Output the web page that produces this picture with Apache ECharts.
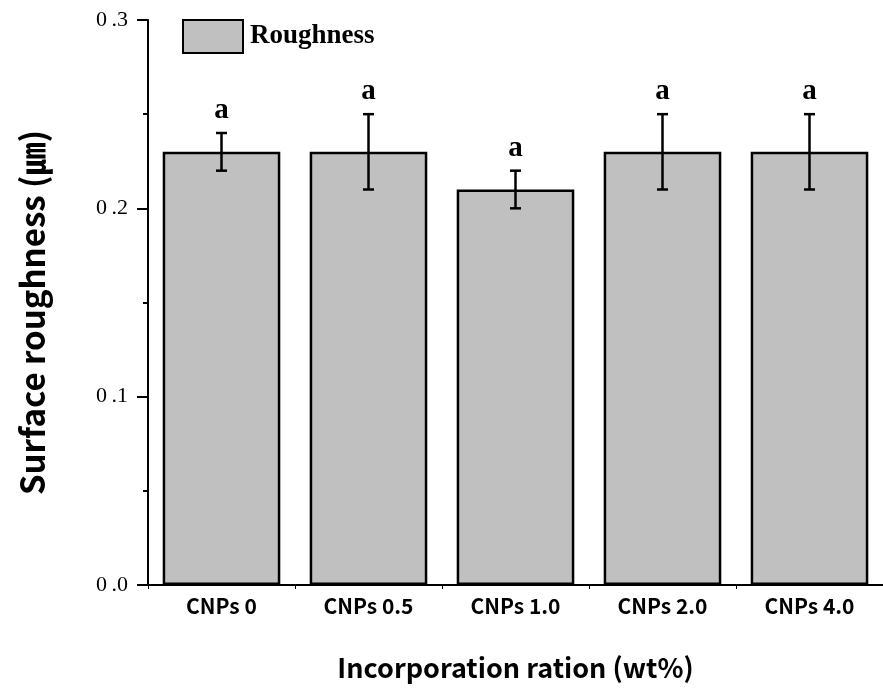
<!DOCTYPE html>
<html>
<head>
<meta charset="utf-8">
<script src="https://cdn.jsdelivr.net/npm/echarts@6/dist/echarts.min.js"></script>
<style>html,body{margin:0;padding:0;background:#fff;}#c{width:883px;height:689px;}</style>
</head>
<body>
<div id="c"></div>
<script>
const categories = ["CNPs 0", "CNPs 0.5", "CNPs 1.0", "CNPs 2.0", "CNPs 4.0"];
const roughness = [0.23, 0.23, 0.21, 0.23, 0.23];
const errors = [0.01, 0.02, 0.01, 0.02, 0.02];
const groupLetters = ["a", "a", "a", "a", "a"];
const yTicks = [0, 0.1, 0.2, 0.3];
const yTickLabels = ["0\u2009.0", "0\u2009.1", "0\u2009.2", "0\u2009.3"];

const chart = echarts.init(document.getElementById('c'));
const errData = categories.map((c, i) => [i, roughness[i], errors[i]]);

chart.setOption({
  animation: false,
  backgroundColor: '#fff',
  grid: { left: 148, right: 0, top: 20, bottom: 104 },
  legend: {
    data: ['Roughness'],
    left: 182, top: 19, padding: 0,
    itemWidth: 60, itemHeight: 33, itemGap: 6,
    icon: 'rect',
    itemStyle: { color: '#c0c0c0', borderColor: '#000', borderWidth: 2 },
    textStyle: { fontFamily: 'Liberation Serif', fontWeight: 'bold', fontSize: 27, color: '#000', padding: [0, 0, 0, 2] }
  },
  xAxis: {
    type: 'category',
    data: categories,
    name: 'Incorporation ration (wt%)',
    nameLocation: 'middle',
    nameGap: 69,
    nameTextStyle: { fontFamily: 'Noto Sans CJK KR', fontWeight: 'bold', fontSize: 27, color: '#000' },
    axisLine: { lineStyle: { color: '#000', width: 2 } },
    axisTick: { show: true, length: 4, lineStyle: { color: '#000', width: 1 } },
    axisLabel: { fontFamily: 'Noto Sans CJK KR', fontWeight: 'bold', fontSize: 21, color: '#000', margin: 11 }
  },
  yAxis: {
    type: 'value',
    min: 0, max: 0.3, interval: 0.1,
    name: 'Surface roughness (㎛)',
    nameLocation: 'middle',
    nameGap: 99,
    nameTextStyle: { fontFamily: 'Noto Sans CJK KR', fontWeight: 'bold', fontSize: 33, color: '#000', padding: [0, 20, 0, 0] },
    axisLine: { show: true, lineStyle: { color: '#000', width: 2 } },
    axisTick: { show: true, length: 11, lineStyle: { color: '#000', width: 2 } },
    minorTick: { show: true, splitNumber: 2, length: 5, lineStyle: { color: '#000', width: 2 } },
    splitLine: { show: false },
    axisLabel: {
      fontFamily: 'Liberation Serif', fontSize: 22, color: '#000', margin: 20,
      formatter: v => { const i = yTicks.findIndex(x => Math.abs(x - v) < 1e-9); return i < 0 ? '' : yTickLabels[i]; }
    }
  },
  series: [
    {
      name: 'Roughness',
      type: 'bar',
      data: roughness,
      barWidth: '80%',
      itemStyle: { color: '#c0c0c0', borderColor: '#000', borderWidth: 2.5 }
    },
    {
      name: 'err',
      type: 'custom',
      data: errData,
      z: 10,
      renderItem: function (params, api) {
        const x = api.value(0), v = api.value(1), e = api.value(2);
        const hi = api.coord([x, v + e]);
        const lo = api.coord([x, v - e]);
        const hw = 5.5;
        const style = { stroke: '#000', lineWidth: 2.5 };
        return {
          type: 'group',
          children: [
            { type: 'line', shape: { x1: hi[0], y1: hi[1], x2: lo[0], y2: lo[1] }, style: style },
            { type: 'line', shape: { x1: hi[0] - hw, y1: hi[1], x2: hi[0] + hw, y2: hi[1] }, style: style },
            { type: 'line', shape: { x1: lo[0] - hw, y1: lo[1], x2: lo[0] + hw, y2: lo[1] }, style: style },
            { type: 'text', style: { text: groupLetters[params.dataIndex], x: hi[0], y: hi[1] - 8, textAlign: 'center', textVerticalAlign: 'bottom', fontFamily: 'Liberation Serif', fontWeight: 'bold', fontSize: 29, fill: '#000' } }
          ]
        };
      }
    }
  ]
});
</script>
</body>
</html>
